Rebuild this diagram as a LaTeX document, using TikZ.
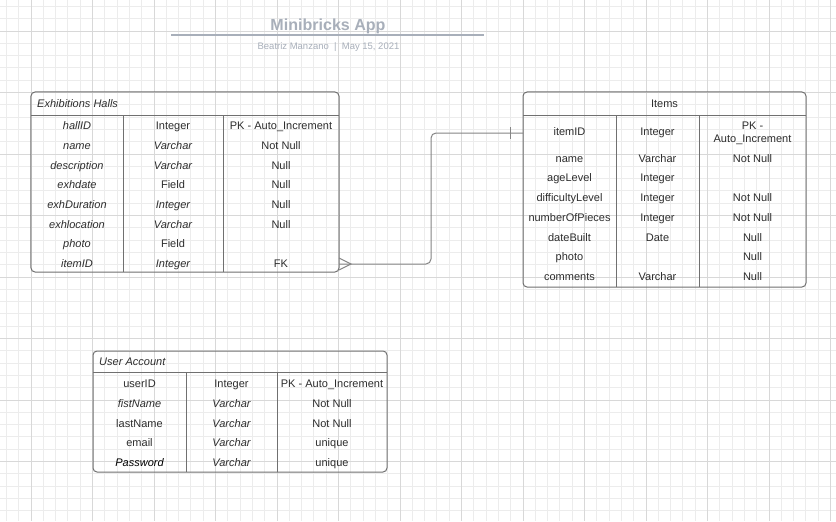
\documentclass[tikz,border=0pt]{standalone}
\usepackage{fontspec}
\setmainfont{Liberation Sans}
\usetikzlibrary{calc}
\definecolor{cinzaLinha}{RGB}{112,112,112}
\definecolor{cinzaTexto}{RGB}{45,45,45}
\definecolor{cinzaTitulo}{RGB}{168,175,186}
\definecolor{gradeFina}{RGB}{236,236,236}
\definecolor{gradeGrossa}{RGB}{216,216,216}
\tikzset{
  tabela/.style={rectangle, draw=cinzaLinha, line width=0.3mm,
                 rounded corners=1.2mm, inner sep=0pt, outer sep=0pt},
  celula/.style={font=\fontsize{9.4}{11.1}\selectfont, text=cinzaTexto, yshift=-0.6mm,
                 inner sep=0pt, align=center, text height=6.8pt, text depth=1.9pt},
  celit/.style={celula, font=\fontsize{9.4}{11.1}\selectfont\itshape},
  divisor/.style={draw=cinzaLinha, line width=0.3mm},
  ligacao/.style={draw=cinzaLinha!85, line width=0.3mm},
}

\begin{document}
\begin{tikzpicture}[x=0.3mm, y=-0.3mm]
  \fill[white] (0,0) rectangle (836,521);
  \useasboundingbox (0,0) rectangle (836,521);
  % grade de fundo
  \foreach \x in {6.4,18.7,...,836} \draw[gradeFina, line width=0.25mm] (\x,0) -- (\x,521);
  \foreach \y in {6.4,18.7,...,521} \draw[gradeFina, line width=0.25mm] (0,\y) -- (836,\y);
  \foreach \x in {31,92.5,...,836} \draw[gradeGrossa, line width=0.25mm] (\x,0) -- (\x,521);
  \foreach \y in {31,92.5,...,521} \draw[gradeGrossa, line width=0.25mm] (0,\y) -- (836,\y);

  % titulo
  \node[font=\fontsize{13.7}{16}\selectfont\bfseries, text=cinzaTitulo] (titulo) at (328,26) {Minibricks App};
  \draw[cinzaTitulo, line width=0.35mm] (171,35) -- (484,35);
  \node[font=\fontsize{8.1}{10}\selectfont, text=cinzaTitulo] (autor) at (328.5,47.5) {Beatriz Manzano \ | \ May 15, 2021};

  % Exhibitions Halls
  \node[tabela, minimum width=92.4mm, minimum height=54mm] (halls) at (185,182) {};
  \draw[divisor] (31,116) -- (339,116);
  \draw[divisor] (123,116) -- (123,272);
  \draw[divisor] (223,116) -- (223,272);
  \node[celit, anchor=west] (hcab) at (37,103) {Exhibitions Halls};
  \node[celit] (h1a) at (77,125) {hallID};      \node[celula] (h1b) at (173,125) {Integer}; \node[celula] (h1c) at (281,125) {PK - Auto\_Increment};
  \node[celit] (h2a) at (77,145) {name};        \node[celit] (h2b) at (173,145) {Varchar};  \node[celula] (h2c) at (281,145) {Not Null};
  \node[celit] (h3a) at (77,165) {description}; \node[celit] (h3b) at (173,165) {Varchar};  \node[celula] (h3c) at (281,165) {Null};
  \node[celit] (h4a) at (77,184) {exhdate};     \node[celula] (h4b) at (173,184) {Field};   \node[celula] (h4c) at (281,184) {Null};
  \node[celit] (h5a) at (77,204) {exhDuration}; \node[celit] (h5b) at (173,204) {Integer};  \node[celula] (h5c) at (281,204) {Null};
  \node[celit] (h6a) at (77,224) {exhlocation}; \node[celit] (h6b) at (173,224) {Varchar};  \node[celula] (h6c) at (281,224) {Null};
  \node[celit] (h7a) at (77,243) {photo};       \node[celula] (h7b) at (173,243) {Field};
  \node[celit] (h8a) at (77,263) {itemID};      \node[celit] (h8b) at (173,263) {Integer};  \node[celula] (h8c) at (281,263) {FK};

  % Items
  \node[tabela, minimum width=84.9mm, minimum height=58.5mm] (items) at (664.5,189.5) {};
  \draw[divisor] (523,116) -- (806,116);
  \draw[divisor] (616,116) -- (616,287);
  \draw[divisor] (699,116) -- (699,287);
  \node[celula] (icab) at (664.5,103) {Items};
  \node[celula] (i1a) at (569.5,131) {itemID};         \node[celula] (i1b) at (657.5,131) {Integer}; \node[celula] (i1c) at (752.5,138) {PK -\\Auto\_Increment};
  \node[celula] (i2a) at (569.5,158) {name};           \node[celula] (i2b) at (657.5,158) {Varchar}; \node[celula] (i2c) at (752.5,158) {Not Null};
  \node[celula] (i3a) at (569.5,177) {ageLevel};       \node[celula] (i3b) at (657.5,177) {Integer};
  \node[celula] (i4a) at (569.5,197) {difficultyLevel}; \node[celula] (i4b) at (657.5,197) {Integer}; \node[celula] (i4c) at (752.5,197) {Not Null};
  \node[celula] (i5a) at (569.5,217) {numberOfPieces}; \node[celula] (i5b) at (657.5,217) {Integer}; \node[celula] (i5c) at (752.5,217) {Not Null};
  \node[celula] (i6a) at (569.5,237) {dateBuilt};      \node[celula] (i6b) at (657.5,237) {Date};    \node[celula] (i6c) at (752.5,237) {Null};
  \node[celula] (i7a) at (569.5,256) {photo};                                                          \node[celula] (i7c) at (752.5,256) {Null};
  \node[celula] (i8a) at (569.5,276) {comments};       \node[celula] (i8b) at (657.5,276) {Varchar}; \node[celula] (i8c) at (752.5,276) {Null};

  % User Account
  \node[tabela, minimum width=88.2mm, minimum height=36.3mm] (users) at (240,411.5) {};
  \draw[divisor] (93,372) -- (387,372);
  \draw[divisor] (186,372) -- (186,472);
  \draw[divisor] (277,372) -- (277,472);
  \node[celit, anchor=west] (ucab) at (99,361) {User Account};
  \node[celula] (u1a) at (139.5,383) {userID};                \node[celula] (u1b) at (231.5,383) {Integer}; \node[celula] (u1c) at (332,383) {PK - Auto\_Increment};
  \node[celit] (u2a) at (139.5,403) {fistName};               \node[celit] (u2b) at (231.5,403) {Varchar};  \node[celula] (u2c) at (332,403) {Not Null};
  \node[celula] (u3a) at (139.5,423) {lastName};              \node[celit] (u3b) at (231.5,423) {Varchar};  \node[celula] (u3c) at (332,423) {Not Null};
  \node[celula] (u4a) at (139.5,442) {email};                 \node[celit] (u4b) at (231.5,442) {Varchar};  \node[celula] (u4c) at (332,442) {unique};
  \node[celit, text=black] (u5a) at (139.5,462) {Password};   \node[celit] (u5b) at (231.5,462) {Varchar};  \node[celula] (u5c) at (332,462) {unique};

  % ligacao itemID (muitos) -> itemID (um)
  \coordinate (hE) at ($(halls.east |- h8c)+(0,-1)$);
  \coordinate (iW) at (items.west |- i1a);
  \draw[ligacao, rounded corners=1.5mm] (hE) -| ($(halls.east)!0.5!(items.west)$) |- (iW);
  \draw[ligacao] ($(hE)+(0,-6)$) -- ($(hE)+(12,0)$) -- ($(hE)+(0,6)$);
  \draw[ligacao] ($(iW)+(-13,-6)$) -- ($(iW)+(-13,6)$);
\end{tikzpicture}
\end{document}
